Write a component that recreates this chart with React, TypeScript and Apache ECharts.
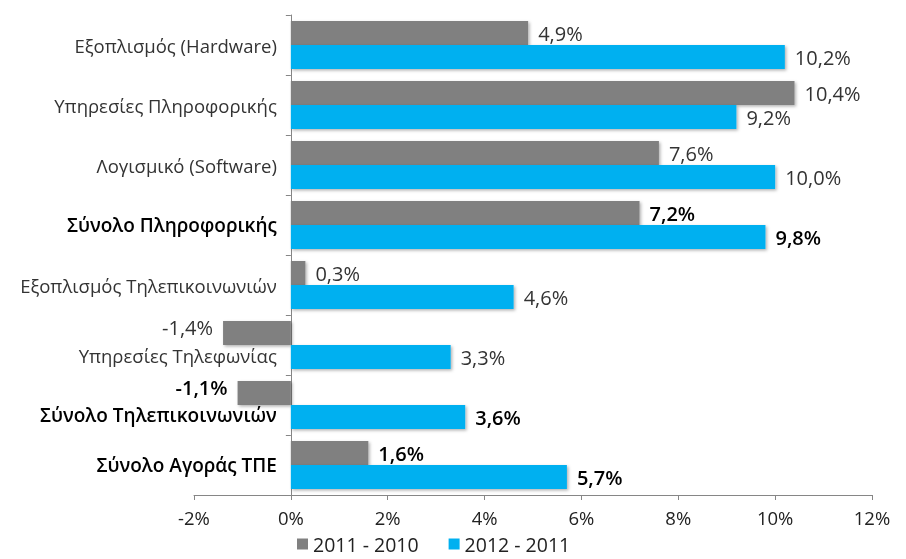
import React, { useEffect, useRef } from "react";
import * as echarts from "echarts";

const categories = [
  "Εξοπλισμός (Hardware)",
  "Υπηρεσίες Πληροφορικής",
  "Λογισμικό (Software)",
  "Σύνολο Πληροφορικής",
  "Εξοπλισμός Τηλεπικοινωνιών",
  "Υπηρεσίες Τηλεφωνίας",
  "Σύνολο Τηλεπικοινωνιών",
  "Σύνολο Αγοράς ΤΠΕ",
];
const boldCategories = [3, 6, 7];
const series2011 = [4.9, 10.4, 7.6, 7.2, 0.3, -1.4, -1.1, 1.6];
const series2012 = [10.2, 9.2, 10.0, 9.8, 4.6, 3.3, 3.6, 5.7];
const seriesNames = ["2011 - 2010", "2012 - 2011"];
const colors = ["#808080", "#00B0F0"];
const xTicks = { min: -2, max: 12, interval: 2 };

const FONT = "'Open Sans', 'Noto Sans', sans-serif";
const BOLD = 600;

const fmt = (v: number) => v.toFixed(1).replace(".", ",") + "%";

function buildData(values: number[]) {
  return values.map((v, i) => {
    const bold = boldCategories.includes(i);
    return {
      value: v,
      label: {
        position: v < 0 ? "left" : "right",
        offset: v < 0 ? [0, -6] : [0, 0],
        fontWeight: bold ? BOLD : "normal",
        color: bold ? "#000" : "#333",
      },
    };
  });
}

export default function App() {
  const ref = useRef<HTMLDivElement>(null);
  useEffect(() => {
    if (!ref.current) return;
    const chart = echarts.init(ref.current, null, { renderer: "svg" });
    const shadow = {
      shadowBlur: 3,
      shadowOffsetX: 1.5,
      shadowOffsetY: 1.5,
      shadowColor: "rgba(0,0,0,0.3)",
    };
    const labelFont = 18.5;
    const gridLeft = 194;
    const gridRight = 34;
    const plotWidth = 906 - gridLeft - gridRight;
    const zeroOffset = ((0 - xTicks.min) / (xTicks.max - xTicks.min)) * plotWidth;
    chart.setOption({
      animation: false,
      textStyle: { fontFamily: FONT },
      grid: {
        left: gridLeft,
        right: gridRight,
        top: 15,
        bottom: 64,
        containLabel: false,
        outerBoundsMode: "none",
      },
      legend: {
        top: 532,
        left: 297,
        padding: 0,
        itemWidth: 11,
        itemHeight: 11,
        itemGap: 30,
        icon: "rect",
        textStyle: { fontSize: 19.5, color: "#222", fontFamily: FONT, lineHeight: 24 },
        data: seriesNames,
      },
      xAxis: {
        type: "value",
        min: xTicks.min,
        max: xTicks.max,
        interval: xTicks.interval,
        splitLine: { show: false },
        axisLine: { show: true, lineStyle: { color: "#868686" } },
        axisTick: { show: true, length: 5, lineStyle: { color: "#868686" } },
        axisLabel: {
          formatter: (v: number) => v + "%",
          fontSize: 18.5,
          color: "#222",
          margin: 13,
          fontFamily: FONT,
        },
      },
      yAxis: {
        type: "category",
        inverse: true,
        data: categories,
        offset: -zeroOffset,
        axisLine: { show: true, onZero: false, lineStyle: { color: "#868686" } },
        axisTick: { show: true, length: 5, lineStyle: { color: "#868686" } },
        axisLabel: {
          margin: 14,
          fontSize: labelFont,
          fontFamily: FONT,
          formatter: (v: string) => {
            const i = categories.indexOf(v);
            const bold = boldCategories.includes(i);
            const shifted = series2011[i] < 0;
            const style = (bold ? "b" : "n") + (shifted ? "s" : "");
            return "{" + style + "|" + v + "}";
          },
          rich: {
            n: { fontSize: labelFont, color: "#333", fontFamily: FONT },
            b: { fontSize: 19, color: "#000", fontWeight: BOLD, fontFamily: FONT },
            ns: {
              fontSize: labelFont,
              color: "#333",
              fontFamily: FONT,
              padding: [20, 0, 0, 0],
            },
            bs: {
              fontSize: 19,
              color: "#000",
              fontWeight: BOLD,
              fontFamily: FONT,
              padding: [20, 0, 0, 0],
            },
          },
        },
      },
      series: [
        {
          name: seriesNames[0],
          type: "bar",
          data: buildData(series2011),
          barGap: "0%",
          barCategoryGap: "20%",
          itemStyle: { color: colors[0], ...shadow },
          label: {
            show: true,
            fontSize: 20,
            distance: 10,
            fontFamily: FONT,
            formatter: (p: any) => fmt(p.value),
          },
        },
        {
          name: seriesNames[1],
          type: "bar",
          data: buildData(series2012),
          barGap: "0%",
          barCategoryGap: "20%",
          itemStyle: { color: colors[1], ...shadow },
          label: {
            show: true,
            fontSize: 20,
            distance: 10,
            fontFamily: FONT,
            formatter: (p: any) => fmt(p.value),
          },
        },
      ],
    });
    return () => chart.dispose();
  }, []);
  return (
    <div
      ref={ref}
      style={{ position: "fixed", left: 0, top: 0, width: 906, height: 559 }}
    />
  );
}
